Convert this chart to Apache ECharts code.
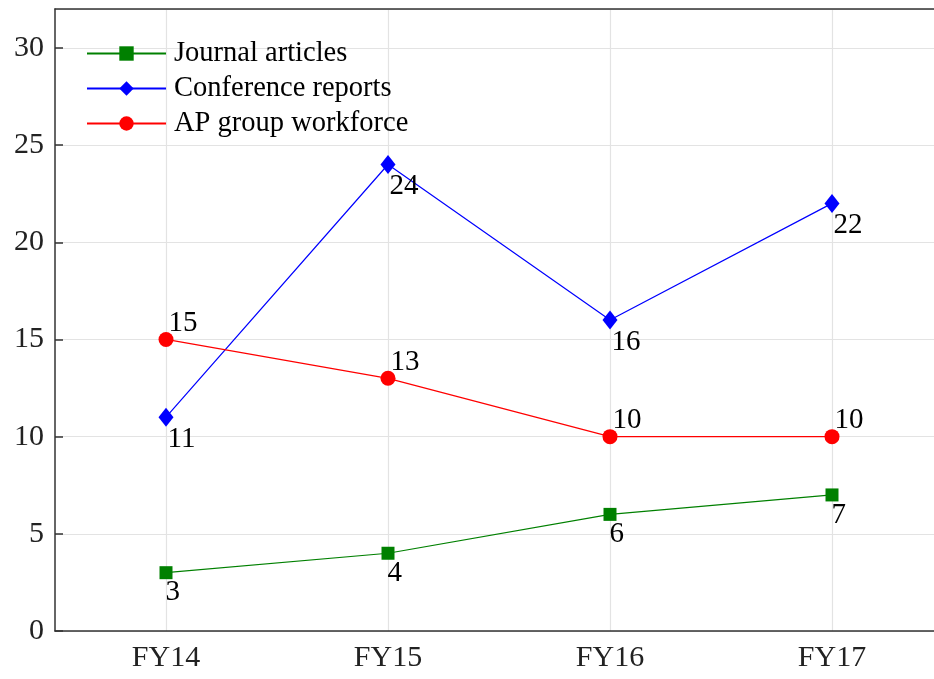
<!DOCTYPE html>
<html>
<head>
<meta charset="utf-8">
<script src="https://cdn.jsdelivr.net/npm/echarts@6/dist/echarts.min.js"></script>
<style>
  html, body { margin: 0; padding: 0; background: #fff; overflow: hidden; }
  /* plot box runs past the right edge of the window, as in the reference */
  #chart { width: 943px; height: 679px; }
</style>
</head>
<body>
<div id="chart"></div>
<script>
// data
const years = ["FY14", "FY15", "FY16", "FY17"];
const journalArticles = [3, 4, 6, 7];
const conferenceReports = [11, 24, 16, 22];
const apWorkforce = [15, 13, 10, 10];

const chart = echarts.init(document.getElementById("chart"));
const FONT = "Liberation Serif";

const labelBelow = (pos) => ({
  show: true,
  position: pos,
  align: "left",
  verticalAlign: "top",
  fontFamily: FONT,
  fontSize: 29,
  color: "#000",
});

chart.setOption({
  animation: false,
  backgroundColor: "#fff",
  textStyle: { fontFamily: FONT },
  grid: { left: 55, top: 9, right: 0, bottom: 48, containLabel: false },
  legend: {
    left: 81,
    top: 34,
    orient: "vertical",
    itemWidth: 79,
    itemHeight: 18,
    itemGap: 6,
    textStyle: { fontFamily: FONT, fontSize: 28.5, color: "#000", lineHeight: 29, padding: [0, 0, 0, 3] },
    data: ["Journal articles", "Conference reports", "AP group workforce"],
  },
  xAxis: [
    {
      type: "category",
      data: years,
      boundaryGap: true,
      axisLine: { lineStyle: { color: "#333", width: 1.5 } },
      axisTick: { inside: true, length: 8, alignWithLabel: true, lineStyle: { color: "#333", width: 1.5 } },
      axisLabel: { fontFamily: FONT, fontSize: 30, color: "#222", margin: 12 },
      splitLine: { show: true, alignWithLabel: true, lineStyle: { color: "#e3e3e3", width: 1.2 } },
    },
    {
      type: "category",
      data: years,
      position: "top",
      boundaryGap: true,
      axisLine: { lineStyle: { color: "#333", width: 1.5 } },
      axisTick: { inside: true, length: 8, alignWithLabel: true, lineStyle: { color: "#333", width: 1.5 } },
      axisLabel: { show: false },
      splitLine: { show: false },
    },
  ],
  yAxis: {
    type: "value",
    min: 0,
    max: 32,
    interval: 5,
    axisLine: { show: true, lineStyle: { color: "#333", width: 1.5 } },
    axisTick: { show: true, inside: true, length: 8, lineStyle: { color: "#333", width: 1.5 } },
    axisLabel: { fontFamily: FONT, fontSize: 30, color: "#222", margin: 11, showMaxLabel: false },
    splitLine: { show: true, lineStyle: { color: "#e3e3e3", width: 1.2 } },
  },
  series: [
    {
      name: "Journal articles",
      type: "line",
      data: journalArticles,
      symbol: "rect",
      symbolSize: 13,
      itemStyle: { color: "#008000" },
      lineStyle: { color: "#008000", width: 1.2 },
      label: labelBelow([6, 12]),
    },
    {
      name: "Conference reports",
      type: "line",
      data: conferenceReports,
      symbol: "diamond",
      symbolSize: [15, 19],
      itemStyle: { color: "#0000ff" },
      lineStyle: { color: "#0000ff", width: 1.2 },
      label: labelBelow([9, 17]),
    },
    {
      name: "AP group workforce",
      type: "line",
      data: apWorkforce,
      symbol: "circle",
      symbolSize: 15,
      itemStyle: { color: "#ff0000" },
      lineStyle: { color: "#ff0000", width: 1.2 },
      label: {
        show: true,
        position: [10, 6],
        align: "left",
        verticalAlign: "bottom",
        fontFamily: FONT,
        fontSize: 29,
        color: "#000",
      },
    },
  ],
});
</script>
</body>
</html>
